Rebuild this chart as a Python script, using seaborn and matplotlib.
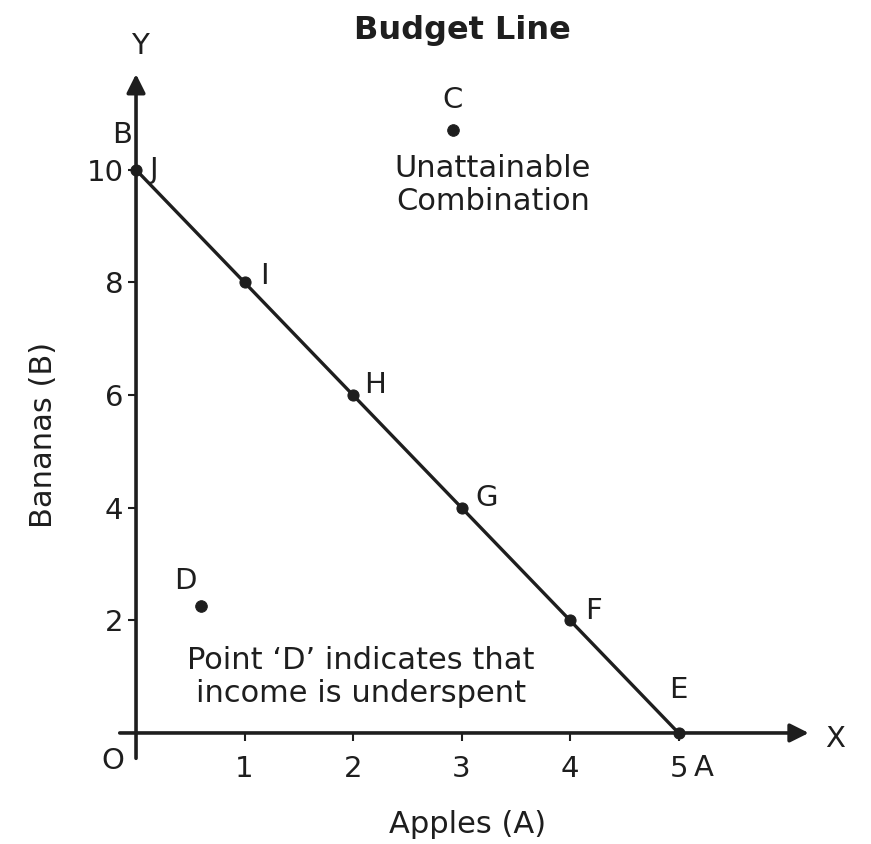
import matplotlib.pyplot as plt
import seaborn as sns
import pandas as pd

# budget line combinations
apples = [0, 1, 2, 3, 4, 5]
bananas = [10, 8, 6, 4, 2, 0]
line_names = ['J', 'I', 'H', 'G', 'F', 'E']

# points off the line
other_x = [2.92, 0.6]
other_y = [10.7, 2.25]
other_names = ['C', 'D']

x_ticks = [1, 2, 3, 4, 5]
y_ticks = [2, 4, 6, 8, 10]

ink = '#1e1e1e'

sns.set_theme(style='white')
plt.rcParams['font.family'] = ['DejaVu Sans']
plt.rcParams['text.color'] = ink

df = pd.DataFrame({'apples': apples, 'bananas': bananas, 'name': line_names})

fig = plt.figure(figsize=(8.71, 8.44), dpi=100)
ax = fig.add_axes([100/871, 1-760/844, 730/871, 700/844])

sns.lineplot(data=df, x='apples', y='bananas', color=ink, lw=2.4,
             marker='o', markersize=8, markeredgecolor=ink, ax=ax)
sns.scatterplot(x=other_x, y=other_y, color=ink, s=70, edgecolor=ink, ax=ax)

ax.set_xlim(-0.332, 6.396)
ax.set_ylim(-0.48, 11.95)

# axes drawn as arrows through the origin
for s in ax.spines.values():
    s.set_visible(False)
ax.spines['left'].set_position(('data', 0))
ax.spines['bottom'].set_position(('data', 0))
ax.annotate('', xy=(6.2, 0), xytext=(-0.15, 0),
            arrowprops=dict(arrowstyle='-|>', lw=2.6, color=ink, mutation_scale=28,
                            shrinkA=0, shrinkB=0))
ax.annotate('', xy=(0, 11.7), xytext=(0, -0.45),
            arrowprops=dict(arrowstyle='-|>', lw=2.6, color=ink, mutation_scale=28,
                            shrinkA=0, shrinkB=0))

ax.set_xticks(x_ticks)
ax.set_yticks(y_ticks)
ax.tick_params(axis='x', direction='out', length=6, width=1.5, color=ink,
               pad=10, labelsize=21, labelcolor=ink, bottom=True)
ax.tick_params(axis='y', direction='out', length=6, width=1.5, color=ink,
               pad=3, labelsize=21, labelcolor=ink, left=True)

ax.set_xlabel('Apples (A)', fontsize=22, color=ink)
ax.set_ylabel('Bananas (B)', fontsize=22, color=ink)
ax.xaxis.set_label_coords(0.504, -0.071)
ax.yaxis.set_label_coords(-0.057, 0.464)

# point labels
offsets = {'J': (10, 0, 'left'), 'I': (11, 5, 'left'), 'H': (8, 7, 'left'),
           'G': (10, 7, 'left'), 'F': (11, 7, 'left'), 'E': (0, 31, 'center')}
for x, y, n in zip(apples, bananas, line_names):
    dx, dy, ha = offsets[n]
    ax.annotate(n, (x, y), xytext=(dx, dy), textcoords='offset points',
                ha=ha, va='center', fontsize=21)
ax.annotate('C', (other_x[0], other_y[0]), xytext=(0, 22), textcoords='offset points',
            ha='center', va='center', fontsize=21)
ax.annotate('D', (other_x[1], other_y[1]), xytext=(-11, 18), textcoords='offset points',
            ha='center', va='center', fontsize=21)
ax.annotate('B', (apples[0], bananas[0]), xytext=(-10, 25), textcoords='offset points',
            ha='center', va='center', fontsize=21)
ax.annotate('A', (apples[-1], bananas[-1]), xytext=(18, -25), textcoords='offset points',
            ha='center', va='center', fontsize=21)

ax.text(0.04, 12.2, 'Y', ha='center', va='center', fontsize=21, clip_on=False)
ax.text(6.44, -0.1, 'X', ha='center', va='center', fontsize=21, clip_on=False)
ax.text(-0.21, -0.5, 'O', ha='center', va='center', fontsize=21, clip_on=False)

ax.text(3.29, 9.73, 'Unattainable\nCombination', ha='center', va='center',
        fontsize=22, linespacing=1.2)
ax.text(2.07, 0.995, 'Point \u2018D\u2019 indicates that\nincome is underspent',
        ha='center', va='center', fontsize=22, linespacing=1.2)

fig.text(462/871, 1-30/844, 'Budget Line', ha='center', va='center',
         fontsize=23, fontweight='bold', color=ink)

fig.savefig('out.png', dpi=100, facecolor='white')
